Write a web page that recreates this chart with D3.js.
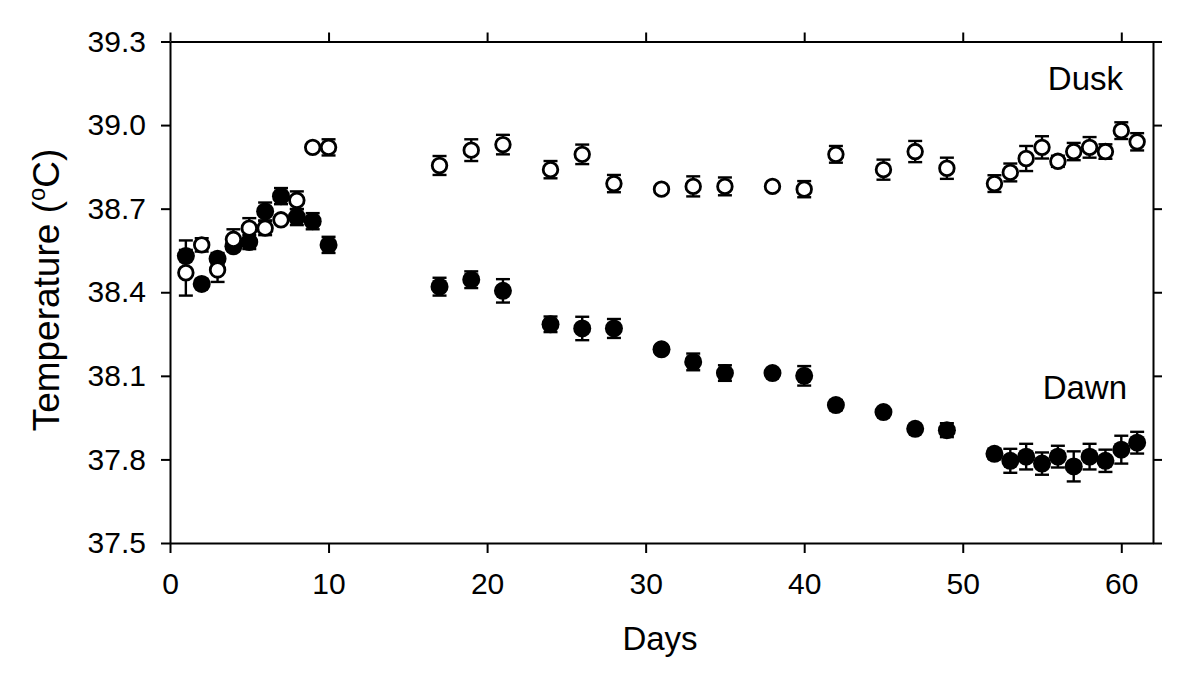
<!DOCTYPE html>
<html>
<head>
<meta charset="utf-8">
<script src="https://cdn.jsdelivr.net/npm/d3@7"></script>
<style>
  body { margin: 0; background: #fff; }
  text { font-family: "Liberation Sans", Arial, sans-serif; fill: #000; }
</style>
</head>
<body>
<div id="chart"></div>
<script>
// days on which both series were sampled
var days = [1,2,3,4,5,6,7,8,9,10,17,19,21,24,26,28,31,33,35,38,40,42,45,47,49,52,53,54,55,56,57,58,59,60,61];

// dusk (open circles)
var duskMean = [38.47,38.57,38.48,38.59,38.63,38.63,38.66,38.73,38.92,38.92,
                38.855,38.91,38.93,38.84,38.895,38.79,38.77,38.78,38.78,38.78,38.77,
                38.895,38.84,38.905,38.845,38.79,38.83,38.88,38.92,38.87,38.905,38.92,38.905,38.98,38.94];
var duskErr  = [0.082,0.024,0.043,0.036,0.036,0.025,0.014,0.032,0,0.029,
                0.034,0.039,0.035,0.031,0.035,0.031,0.01,0.036,0.032,0,0.029,
                0.03,0.036,0.038,0.038,0.03,0.032,0.045,0.04,0.02,0.031,0.037,0.026,0.03,0.031];

// dawn (filled circles)
var dawnMean = [38.53,38.43,38.52,38.565,38.58,38.69,38.745,38.67,38.655,38.57,
                38.42,38.445,38.405,38.285,38.27,38.27,38.195,38.15,38.11,38.11,38.10,
                37.995,37.97,37.91,37.905,37.82,37.795,37.81,37.785,37.81,37.775,37.81,37.795,37.835,37.86];
var dawnErr  = [0.056,0.015,0.021,0.015,0.025,0.032,0.029,0.029,0.029,0.029,
                0.032,0.03,0.042,0.028,0.042,0.034,0.015,0.03,0.028,0,0.035,
                0.018,0.01,0.01,0.025,0.018,0.043,0.046,0.04,0.039,0.054,0.046,0.04,0.05,0.039];

var xTicks = [0,10,20,30,40,50,60];
var yTicks = [37.5,37.8,38.1,38.4,38.7,39.0,39.3];

var svg = d3.select("#chart").append("svg")
            .attr("width", 1200)
            .attr("height", 676);

var x = d3.scaleLinear().domain([0, 62]).range([170, 1153]);
var y = d3.scaleLinear().domain([37.5, 39.3]).range([543, 41.5]);

// axes, all four sides, ticks pointing out
svg.append("g")
   .attr("class", "axis")
   .attr("transform", "translate(0,543)")
   .call(d3.axisBottom(x).tickValues(xTicks).tickSize(10).tickSizeOuter(0).tickPadding(20));

svg.append("g")
   .attr("class", "axis")
   .attr("transform", "translate(0,41.5)")
   .call(d3.axisTop(x).tickValues(xTicks).tickSize(9).tickSizeOuter(0).tickFormat(""));

svg.append("g")
   .attr("class", "axis")
   .attr("transform", "translate(170,0)")
   .call(d3.axisLeft(y).tickValues(yTicks).tickSize(9).tickSizeOuter(0).tickPadding(15)
           .tickFormat(d3.format(".1f")));

svg.append("g")
   .attr("class", "axis")
   .attr("transform", "translate(1153,0)")
   .call(d3.axisRight(y).tickValues(yTicks).tickSize(9).tickSizeOuter(0).tickFormat(""));

svg.selectAll(".axis path").attr("stroke", "#000").attr("stroke-width", 2);
svg.selectAll(".axis line").attr("stroke", "#000").attr("stroke-width", 2);
svg.selectAll(".axis text").style("font-size", "30px").attr("fill", "#000");

// error bars
function drawErrors(means, errs) {
  var g = svg.append("g").attr("stroke", "#000").attr("stroke-width", 2.4);
  days.forEach(function(d, i) {
    if (errs[i] <= 0) return;
    var cx = x(d);
    var top = y(means[i] + errs[i]);
    var bot = y(means[i] - errs[i]);
    g.append("line").attr("x1", cx).attr("x2", cx).attr("y1", top).attr("y2", bot);
    g.append("line").attr("x1", cx - 7).attr("x2", cx + 7).attr("y1", top).attr("y2", top);
    g.append("line").attr("x1", cx - 7).attr("x2", cx + 7).attr("y1", bot).attr("y2", bot);
  });
}
drawErrors(duskMean, duskErr);
drawErrors(dawnMean, dawnErr);

// dawn symbols
svg.append("g").selectAll("circle")
   .data(days)
   .enter().append("circle")
   .attr("cx", function(d) { return x(d); })
   .attr("cy", function(d, i) { return y(dawnMean[i]); })
   .attr("r", 9)
   .attr("fill", "#000");

// dusk symbols
svg.append("g").selectAll("circle")
   .data(days)
   .enter().append("circle")
   .attr("cx", function(d) { return x(d); })
   .attr("cy", function(d, i) { return y(duskMean[i]); })
   .attr("r", 7.3)
   .attr("fill", "#fff")
   .attr("stroke", "#000")
   .attr("stroke-width", 2.8);

// series labels
svg.append("text")
   .attr("x", 1123)
   .attr("y", 90)
   .attr("text-anchor", "end")
   .style("font-size", "33px")
   .text("Dusk");

svg.append("text")
   .attr("x", 1127)
   .attr("y", 399)
   .attr("text-anchor", "end")
   .style("font-size", "33px")
   .text("Dawn");

// axis titles
svg.append("text")
   .attr("x", 660)
   .attr("y", 650)
   .attr("text-anchor", "middle")
   .style("font-size", "33px")
   .text("Days");

var ytitle = svg.append("text")
   .attr("transform", "translate(59,290) rotate(-90)")
   .attr("text-anchor", "middle")
   .style("font-size", "37px");
ytitle.append("tspan").text("Temperature (");
ytitle.append("tspan").attr("dy", -14).style("font-size", "24px").text("o");
ytitle.append("tspan").attr("dy", 14).text("C)");
</script>
</body>
</html>
